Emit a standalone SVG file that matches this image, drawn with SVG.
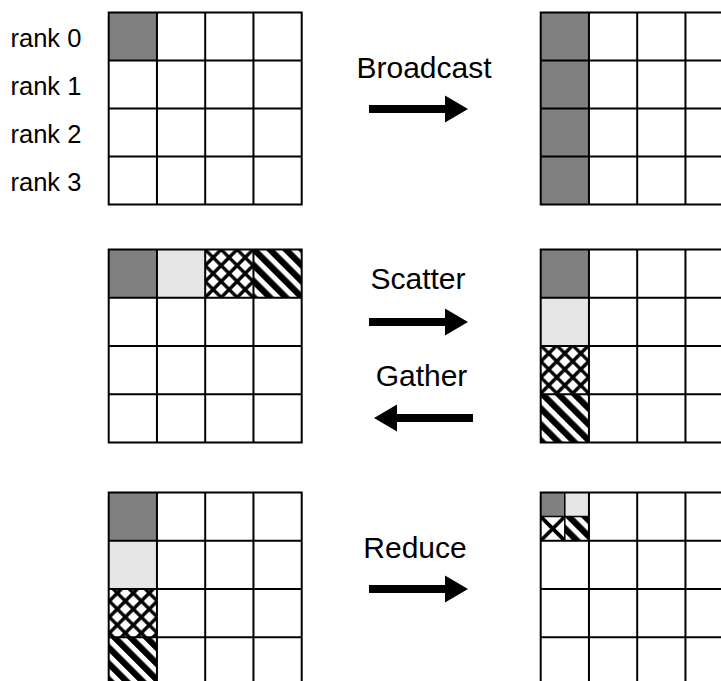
<svg xmlns="http://www.w3.org/2000/svg" xmlns:xlink="http://www.w3.org/1999/xlink" width="721" height="681" viewBox="0 0 721 681">
  <style>
    .lbl { font-family: "Liberation Sans", Arial, sans-serif; font-size: 30px; fill: #000; text-anchor: middle; }
    .rank { font-family: "Liberation Sans", Arial, sans-serif; font-size: 25.5px; fill: #000; }
    .grid { fill: none; stroke: #000; stroke-width: 2; }
    .thin { fill: none; stroke: #000; stroke-width: 1.5; }
    .dark { fill: #808080; }
    .light { fill: #e6e6e6; }
    .cross { fill: url(#cross); }
    .cross2 { fill: url(#cross2); }
    .stripe { fill: url(#stripe); }
    .arrow { fill: #000; stroke: none; }
  </style>
  <defs>
    <pattern id="cross" patternUnits="userSpaceOnUse" width="11.3" height="11.3" patternTransform="translate(205.2 249.5) rotate(45)">
      <rect width="11.3" height="11.3" fill="#fff"/>
      <path d="M0 0 V11.3 M0 0 H11.3 M11.3 0 V11.3 M0 11.3 H11.3" stroke="#000" stroke-width="3.4" fill="none"/>
    </pattern>
    <pattern id="cross2" patternUnits="userSpaceOnUse" width="17.05" height="17.05" patternTransform="translate(540.7 516.6) rotate(45)">
      <rect width="17.05" height="17.05" fill="#fff"/>
      <path d="M0 0 V17.05 M0 0 H17.05 M17.05 0 V17.05 M0 17.05 H17.05" stroke="#000" stroke-width="3.6" fill="none"/>
    </pattern>
    <pattern id="stripe" patternUnits="userSpaceOnUse" width="11.3" height="11.3" patternTransform="rotate(-45)">
      <rect width="11.3" height="11.3" fill="#fff"/>
      <rect x="0" y="0" width="6.3" height="11.3" fill="#000"/>
    </pattern>
    <path id="arr" d="M0 -4 H76 V-13.5 L99 0 L76 13.5 V4 H0 Z"/>
  </defs>

  <g id="rank-labels">
    <text class="rank" x="10.5" y="46.5">rank 0</text>
    <text class="rank" x="10.5" y="94.5">rank 1</text>
    <text class="rank" x="10.5" y="142.5">rank 2</text>
    <text class="rank" x="10.5" y="190.5">rank 3</text>
  </g>

  <!-- Broadcast: before -->
  <g id="bcast-before">
    <rect class="dark" x="108.7" y="12.5" width="48.25" height="48"/>
    <path class="grid" d="M108.7 12.5 H301.7 V204.5 H108.7 Z M156.95 12.5 V204.5 M205.2 12.5 V204.5 M253.45 12.5 V204.5 M108.7 60.5 H301.7 M108.7 108.5 H301.7 M108.7 156.5 H301.7"/>
  </g>
  <!-- Broadcast: after -->
  <g id="bcast-after">
    <rect class="dark" x="540.7" y="12.5" width="48.25" height="192"/>
    <path class="grid" d="M540.7 12.5 H733.7 V204.5 H540.7 Z M588.95 12.5 V204.5 M637.2 12.5 V204.5 M685.45 12.5 V204.5 M540.7 60.5 H733.7 M540.7 108.5 H733.7 M540.7 156.5 H733.7"/>
  </g>

  <!-- Scatter/Gather: left -->
  <g id="scatter-before">
    <rect class="dark" x="108.7" y="249.5" width="48.25" height="48.25"/>
    <rect class="light" x="156.95" y="249.5" width="48.25" height="48.25"/>
    <rect class="cross" x="205.2" y="249.5" width="48.25" height="48.25"/>
    <rect class="stripe" x="253.45" y="249.5" width="48.25" height="48.25"/>
    <path class="grid" d="M108.7 249.5 H301.7 V442.5 H108.7 Z M156.95 249.5 V442.5 M205.2 249.5 V442.5 M253.45 249.5 V442.5 M108.7 297.75 H301.7 M108.7 346 H301.7 M108.7 394.25 H301.7"/>
  </g>
  <!-- Scatter/Gather: right -->
  <g id="scatter-after">
    <rect class="dark" x="540.7" y="249.5" width="48.25" height="48.25"/>
    <rect class="light" x="540.7" y="297.75" width="48.25" height="48.25"/>
    <rect class="cross" x="540.7" y="346" width="48.25" height="48.25"/>
    <rect class="stripe" x="540.7" y="394.25" width="48.25" height="48.25"/>
    <path class="grid" d="M540.7 249.5 H733.7 V442.5 H540.7 Z M588.95 249.5 V442.5 M637.2 249.5 V442.5 M685.45 249.5 V442.5 M540.7 297.75 H733.7 M540.7 346 H733.7 M540.7 394.25 H733.7"/>
  </g>

  <!-- Reduce: left -->
  <g id="reduce-before">
    <rect class="dark" x="108.7" y="492.5" width="48.25" height="48.25"/>
    <rect class="light" x="108.7" y="540.75" width="48.25" height="48.25"/>
    <rect class="cross" x="108.7" y="589" width="48.25" height="48.25"/>
    <rect class="stripe" x="108.7" y="637.25" width="48.25" height="48.25"/>
    <path class="grid" d="M108.7 492.5 H301.7 V685.5 H108.7 Z M156.95 492.5 V685.5 M205.2 492.5 V685.5 M253.45 492.5 V685.5 M108.7 540.75 H301.7 M108.7 589 H301.7 M108.7 637.25 H301.7"/>
  </g>
  <!-- Reduce: right -->
  <g id="reduce-after">
    <rect class="dark" x="540.7" y="492.5" width="24.1" height="24.1"/>
    <rect class="light" x="564.8" y="492.5" width="24.15" height="24.1"/>
    <rect class="cross2" x="540.7" y="516.6" width="24.1" height="24.15"/>
    <rect class="stripe" x="564.8" y="516.6" width="24.15" height="24.15"/>
    <path class="thin" d="M564.8 492.5 V540.75 M540.7 516.6 H588.95"/>
    <path class="grid" d="M540.7 492.5 H733.7 V685.5 H540.7 Z M588.95 492.5 V685.5 M637.2 492.5 V685.5 M685.45 492.5 V685.5 M540.7 540.75 H733.7 M540.7 589 H733.7 M540.7 637.25 H733.7"/>
  </g>

  <g id="connectors">
    <use class="arrow" xlink:href="#arr" href="#arr" transform="translate(369 109)"/>
    <use class="arrow" xlink:href="#arr" href="#arr" transform="translate(369 322)"/>
    <use class="arrow" xlink:href="#arr" href="#arr" transform="translate(473 418) scale(-1 1)"/>
    <use class="arrow" xlink:href="#arr" href="#arr" transform="translate(369 589)"/>
  </g>

  <g id="op-labels">
    <text class="lbl" x="424" y="77.5">Broadcast</text>
    <text class="lbl" x="418" y="289">Scatter</text>
    <text class="lbl" x="421.5" y="386">Gather</text>
    <text class="lbl" x="415" y="558">Reduce</text>
  </g>
</svg>
